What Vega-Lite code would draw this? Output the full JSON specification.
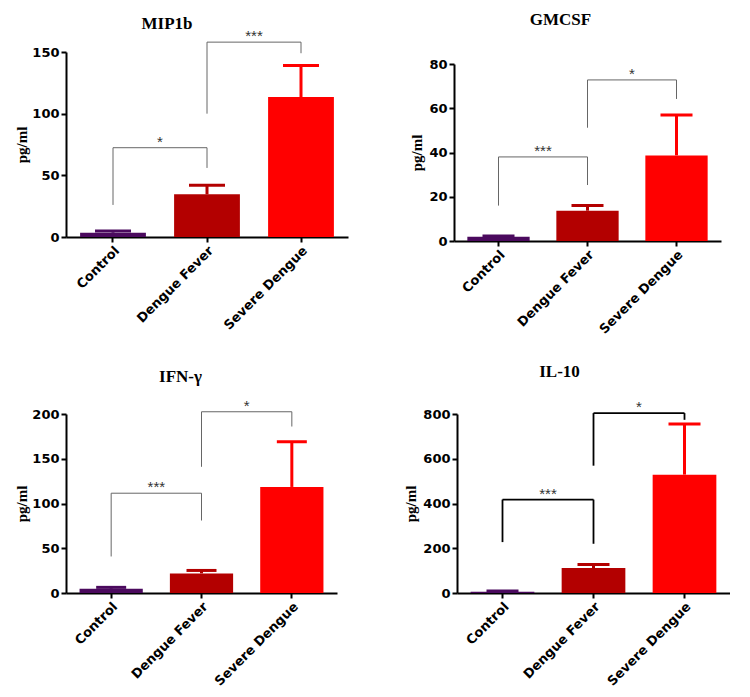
{
  "$schema": "https://vega.github.io/schema/vega-lite/v6.json",
  "padding": {"left": 14, "top": 11, "right": 0, "bottom": 0},
  "background": "white",
  "datasets": {
    "bars": [
      {"panel": "MIP1b", "group": "Control", "mean": 3.5, "upper": 4.8},
      {"panel": "MIP1b", "group": "Dengue Fever", "mean": 34.6, "upper": 42},
      {"panel": "MIP1b", "group": "Severe Dengue", "mean": 113.5, "upper": 139},
      {"panel": "GMCSF", "group": "Control", "mean": 1.9, "upper": 2.3},
      {"panel": "GMCSF", "group": "Dengue Fever", "mean": 13.7, "upper": 16},
      {"panel": "GMCSF", "group": "Severe Dengue", "mean": 38.7, "upper": 57},
      {"panel": "IFN", "group": "Control", "mean": 4.8, "upper": 6.3},
      {"panel": "IFN", "group": "Dengue Fever", "mean": 21.9, "upper": 25.2},
      {"panel": "IFN", "group": "Severe Dengue", "mean": 118.5, "upper": 169},
      {"panel": "IL10", "group": "Control", "mean": 6, "upper": 9},
      {"panel": "IL10", "group": "Dengue Fever", "mean": 111.5, "upper": 127},
      {"panel": "IL10", "group": "Severe Dengue", "mean": 529, "upper": 755}
    ],
    "brackets": [
      {"panel": "MIP1b", "from": "Control", "to": "Dengue Fever", "level": 72.4, "leftEnd": 26, "rightEnd": 56, "label": "*"},
      {"panel": "MIP1b", "from": "Dengue Fever", "to": "Severe Dengue", "level": 158, "leftEnd": 100, "rightEnd": 149, "label": "***"},
      {"panel": "GMCSF", "from": "Control", "to": "Dengue Fever", "level": 38, "leftEnd": 16, "rightEnd": 25.3, "label": "***"},
      {"panel": "GMCSF", "from": "Dengue Fever", "to": "Severe Dengue", "level": 72.8, "leftEnd": 51.2, "rightEnd": 64.2, "label": "*"},
      {"panel": "IFN", "from": "Control", "to": "Dengue Fever", "level": 111.5, "leftEnd": 40.8, "rightEnd": 81, "label": "***"},
      {"panel": "IFN", "from": "Dengue Fever", "to": "Severe Dengue", "level": 202.5, "leftEnd": 141, "rightEnd": 186, "label": "*"},
      {"panel": "IL10", "from": "Control", "to": "Dengue Fever", "level": 417.6, "leftEnd": 227.5, "rightEnd": 220, "label": "***"},
      {"panel": "IL10", "from": "Dengue Fever", "to": "Severe Dengue", "level": 804, "leftEnd": 569, "rightEnd": 774, "label": "*"}
    ]
  },
  "spacing": 26,
  "vconcat": [
    {
      "spacing": 61,
      "hconcat": [
        {
          "width": 282, "height": 185,
          "title": {"text": "MIP1b", "dx": -40, "offset": -4},
          "layer": [
            {"data": {"name": "bars"}, "transform": [{"filter": "datum.panel === 'MIP1b'"}],
             "mark": {"type": "bar"},
             "encoding": {
               "x": {"field": "group", "type": "nominal", "scale": {"domain": ["Control", "Dengue Fever", "Severe Dengue"]}},
               "y": {"field": "mean", "type": "quantitative", "scale": {"domain": [0, 150], "nice": false}, "axis": {"values": [0, 50, 100, 150], "title": "pg/ml"}},
               "color": {"field": "group", "type": "nominal", "scale": {"domain": ["Control", "Dengue Fever", "Severe Dengue"], "range": ["#4B0A5E", "#B30000", "#FF0000"]}, "legend": null}
             }},
            {"data": {"name": "bars"}, "transform": [{"filter": "datum.panel === 'MIP1b'"}],
             "mark": {"type": "rule", "strokeWidth": 3},
             "encoding": {
               "x": {"field": "group", "type": "nominal"},
               "y": {"field": "mean", "type": "quantitative"},
               "y2": {"field": "upper"},
               "color": {"field": "group", "type": "nominal", "legend": null}
             }},
            {"data": {"name": "bars"}, "transform": [{"filter": "datum.panel === 'MIP1b'"}],
             "mark": {"type": "tick", "size": 36, "thickness": 3, "opacity": 1},
             "encoding": {
               "x": {"field": "group", "type": "nominal"},
               "y": {"field": "upper", "type": "quantitative"},
               "color": {"field": "group", "type": "nominal", "legend": null}
             }},
            {"data": {"name": "brackets"}, "transform": [{"filter": "datum.panel === 'MIP1b'"}],
             "mark": {"type": "rule", "color": "#666666", "strokeWidth": 1},
             "encoding": {"x": {"field": "from", "type": "nominal"}, "x2": {"field": "to"}, "y": {"field": "level", "type": "quantitative"}}},
            {"data": {"name": "brackets"}, "transform": [{"filter": "datum.panel === 'MIP1b'"}],
             "mark": {"type": "rule", "color": "#666666", "strokeWidth": 1},
             "encoding": {"x": {"field": "from", "type": "nominal"}, "y": {"field": "level", "type": "quantitative"}, "y2": {"field": "leftEnd"}}},
            {"data": {"name": "brackets"}, "transform": [{"filter": "datum.panel === 'MIP1b'"}],
             "mark": {"type": "rule", "color": "#666666", "strokeWidth": 1},
             "encoding": {"x": {"field": "to", "type": "nominal"}, "y": {"field": "level", "type": "quantitative"}, "y2": {"field": "rightEnd"}}},
            {"data": {"name": "brackets"}, "transform": [{"filter": "datum.panel === 'MIP1b'"}],
             "mark": {"type": "text", "font": "Liberation Sans", "fontSize": 15, "color": "#333333", "baseline": "alphabetic", "dy": -1},
             "encoding": {"x": {"field": "from", "type": "nominal", "bandPosition": 1.2142857}, "y": {"field": "level", "type": "quantitative"}, "text": {"field": "label"}}}
          ]
        },
        {
          "width": 267, "height": 189,
          "title": {"text": "GMCSF", "dx": -27, "offset": 23},
          "layer": [
            {"data": {"name": "bars"}, "transform": [{"filter": "datum.panel === 'GMCSF'"}],
             "mark": {"type": "bar"},
             "encoding": {
               "x": {"field": "group", "type": "nominal", "scale": {"domain": ["Control", "Dengue Fever", "Severe Dengue"]}},
               "y": {"field": "mean", "type": "quantitative", "scale": {"domain": [0, 80], "range": [189, 12], "nice": false}, "axis": {"values": [0, 20, 40, 60, 80], "title": "pg/ml", "titlePadding": 4}},
               "color": {"field": "group", "type": "nominal", "scale": {"domain": ["Control", "Dengue Fever", "Severe Dengue"], "range": ["#4B0A5E", "#B30000", "#FF0000"]}, "legend": null}
             }},
            {"data": {"name": "bars"}, "transform": [{"filter": "datum.panel === 'GMCSF'"}],
             "mark": {"type": "rule", "strokeWidth": 3},
             "encoding": {
               "x": {"field": "group", "type": "nominal"},
               "y": {"field": "mean", "type": "quantitative"},
               "y2": {"field": "upper"},
               "color": {"field": "group", "type": "nominal", "legend": null}
             }},
            {"data": {"name": "bars"}, "transform": [{"filter": "datum.panel === 'GMCSF'"}],
             "mark": {"type": "tick", "size": 32, "thickness": 3, "opacity": 1},
             "encoding": {
               "x": {"field": "group", "type": "nominal"},
               "y": {"field": "upper", "type": "quantitative"},
               "color": {"field": "group", "type": "nominal", "legend": null}
             }},
            {"data": {"name": "brackets"}, "transform": [{"filter": "datum.panel === 'GMCSF'"}],
             "mark": {"type": "rule", "color": "#666666", "strokeWidth": 1},
             "encoding": {"x": {"field": "from", "type": "nominal"}, "x2": {"field": "to"}, "y": {"field": "level", "type": "quantitative"}}},
            {"data": {"name": "brackets"}, "transform": [{"filter": "datum.panel === 'GMCSF'"}],
             "mark": {"type": "rule", "color": "#666666", "strokeWidth": 1},
             "encoding": {"x": {"field": "from", "type": "nominal"}, "y": {"field": "level", "type": "quantitative"}, "y2": {"field": "leftEnd"}}},
            {"data": {"name": "brackets"}, "transform": [{"filter": "datum.panel === 'GMCSF'"}],
             "mark": {"type": "rule", "color": "#666666", "strokeWidth": 1},
             "encoding": {"x": {"field": "to", "type": "nominal"}, "y": {"field": "level", "type": "quantitative"}, "y2": {"field": "rightEnd"}}},
            {"data": {"name": "brackets"}, "transform": [{"filter": "datum.panel === 'GMCSF'"}],
             "mark": {"type": "text", "font": "Liberation Sans", "fontSize": 15, "color": "#333333", "baseline": "alphabetic", "dy": -1},
             "encoding": {"x": {"field": "from", "type": "nominal", "bandPosition": 1.2142857}, "y": {"field": "level", "type": "quantitative"}, "text": {"field": "label"}}}
          ]
        }
      ]
    },
    {
      "spacing": 66,
      "hconcat": [
        {
          "width": 271, "height": 179,
          "title": {"text": "IFN-γ", "dx": -21, "offset": 13},
          "layer": [
            {"data": {"name": "bars"}, "transform": [{"filter": "datum.panel === 'IFN'"}],
             "mark": {"type": "bar"},
             "encoding": {
               "x": {"field": "group", "type": "nominal", "scale": {"domain": ["Control", "Dengue Fever", "Severe Dengue"]}},
               "y": {"field": "mean", "type": "quantitative", "scale": {"domain": [0, 200], "nice": false}, "axis": {"values": [0, 50, 100, 150, 200], "title": "pg/ml"}},
               "color": {"field": "group", "type": "nominal", "scale": {"domain": ["Control", "Dengue Fever", "Severe Dengue"], "range": ["#4B0A5E", "#B30000", "#FF0000"]}, "legend": null}
             }},
            {"data": {"name": "bars"}, "transform": [{"filter": "datum.panel === 'IFN'"}],
             "mark": {"type": "rule", "strokeWidth": 3},
             "encoding": {
               "x": {"field": "group", "type": "nominal"},
               "y": {"field": "mean", "type": "quantitative"},
               "y2": {"field": "upper"},
               "color": {"field": "group", "type": "nominal", "legend": null}
             }},
            {"data": {"name": "bars"}, "transform": [{"filter": "datum.panel === 'IFN'"}],
             "mark": {"type": "tick", "size": 30, "thickness": 3, "opacity": 1},
             "encoding": {
               "x": {"field": "group", "type": "nominal"},
               "y": {"field": "upper", "type": "quantitative"},
               "color": {"field": "group", "type": "nominal", "legend": null}
             }},
            {"data": {"name": "brackets"}, "transform": [{"filter": "datum.panel === 'IFN'"}],
             "mark": {"type": "rule", "color": "#666666", "strokeWidth": 1},
             "encoding": {"x": {"field": "from", "type": "nominal"}, "x2": {"field": "to"}, "y": {"field": "level", "type": "quantitative"}}},
            {"data": {"name": "brackets"}, "transform": [{"filter": "datum.panel === 'IFN'"}],
             "mark": {"type": "rule", "color": "#666666", "strokeWidth": 1},
             "encoding": {"x": {"field": "from", "type": "nominal"}, "y": {"field": "level", "type": "quantitative"}, "y2": {"field": "leftEnd"}}},
            {"data": {"name": "brackets"}, "transform": [{"filter": "datum.panel === 'IFN'"}],
             "mark": {"type": "rule", "color": "#666666", "strokeWidth": 1},
             "encoding": {"x": {"field": "to", "type": "nominal"}, "y": {"field": "level", "type": "quantitative"}, "y2": {"field": "rightEnd"}}},
            {"data": {"name": "brackets"}, "transform": [{"filter": "datum.panel === 'IFN'"}],
             "mark": {"type": "text", "font": "Liberation Sans", "fontSize": 15, "color": "#333333", "baseline": "alphabetic", "dy": -1},
             "encoding": {"x": {"field": "from", "type": "nominal", "bandPosition": 1.2142857}, "y": {"field": "level", "type": "quantitative"}, "text": {"field": "label"}}}
          ]
        },
        {
          "width": 273, "height": 179,
          "title": {"text": "IL-10", "dx": -34, "offset": 19},
          "layer": [
            {"data": {"name": "bars"}, "transform": [{"filter": "datum.panel === 'IL10'"}],
             "mark": {"type": "bar"},
             "encoding": {
               "x": {"field": "group", "type": "nominal", "scale": {"domain": ["Control", "Dengue Fever", "Severe Dengue"]}},
               "y": {"field": "mean", "type": "quantitative", "scale": {"domain": [0, 800], "nice": false}, "axis": {"values": [0, 200, 400, 600, 800], "title": "pg/ml", "titlePadding": 4}},
               "color": {"field": "group", "type": "nominal", "scale": {"domain": ["Control", "Dengue Fever", "Severe Dengue"], "range": ["#4B0A5E", "#B30000", "#FF0000"]}, "legend": null}
             }},
            {"data": {"name": "bars"}, "transform": [{"filter": "datum.panel === 'IL10'"}],
             "mark": {"type": "rule", "strokeWidth": 3},
             "encoding": {
               "x": {"field": "group", "type": "nominal"},
               "y": {"field": "mean", "type": "quantitative"},
               "y2": {"field": "upper"},
               "color": {"field": "group", "type": "nominal", "legend": null}
             }},
            {"data": {"name": "bars"}, "transform": [{"filter": "datum.panel === 'IL10'"}],
             "mark": {"type": "tick", "size": 32, "thickness": 3, "opacity": 1},
             "encoding": {
               "x": {"field": "group", "type": "nominal"},
               "y": {"field": "upper", "type": "quantitative"},
               "color": {"field": "group", "type": "nominal", "legend": null}
             }},
            {"data": {"name": "brackets"}, "transform": [{"filter": "datum.panel === 'IL10'"}],
             "mark": {"type": "rule", "color": "#000000", "strokeWidth": 1.8},
             "encoding": {"x": {"field": "from", "type": "nominal"}, "x2": {"field": "to"}, "y": {"field": "level", "type": "quantitative"}}},
            {"data": {"name": "brackets"}, "transform": [{"filter": "datum.panel === 'IL10'"}],
             "mark": {"type": "rule", "color": "#000000", "strokeWidth": 1.8},
             "encoding": {"x": {"field": "from", "type": "nominal"}, "y": {"field": "level", "type": "quantitative"}, "y2": {"field": "leftEnd"}}},
            {"data": {"name": "brackets"}, "transform": [{"filter": "datum.panel === 'IL10'"}],
             "mark": {"type": "rule", "color": "#000000", "strokeWidth": 1.8},
             "encoding": {"x": {"field": "to", "type": "nominal"}, "y": {"field": "level", "type": "quantitative"}, "y2": {"field": "rightEnd"}}},
            {"data": {"name": "brackets"}, "transform": [{"filter": "datum.panel === 'IL10'"}],
             "mark": {"type": "text", "font": "Liberation Sans", "fontSize": 15, "color": "#333333", "baseline": "alphabetic", "dy": -1},
             "encoding": {"x": {"field": "from", "type": "nominal", "bandPosition": 1.2142857}, "y": {"field": "level", "type": "quantitative"}, "text": {"field": "label"}}}
          ]
        }
      ]
    }
  ],
  "config": {
    "view": {"stroke": null},
    "scale": {"bandPaddingInner": 0.3, "bandPaddingOuter": 0.15},
    "axis": {"domainColor": "#000000", "domainWidth": 2, "tickColor": "#000000", "tickWidth": 2, "tickSize": 5, "labelColor": "#000000", "labelFont": "DejaVu Sans", "labelFontWeight": "bold", "labelFontSize": 13, "labelPadding": 2, "grid": false, "titleFont": "Liberation Serif", "titleFontSize": 15, "titleFontWeight": "bold", "titleColor": "#000000", "titlePadding": 2},
    "axisX": {"labelAngle": -45, "title": null, "labelFontSize": 13},
    "title": {"font": "Liberation Serif", "fontSize": 17, "fontWeight": "bold", "color": "#000000"}
  }
}
